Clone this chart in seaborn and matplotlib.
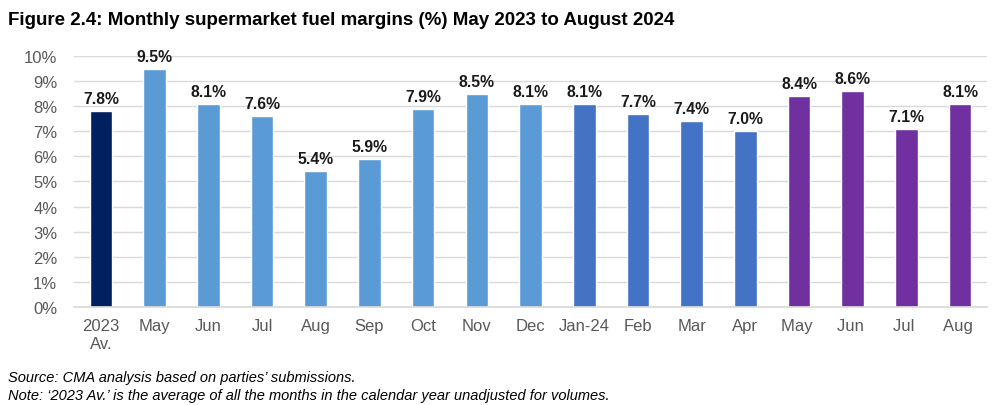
import matplotlib
matplotlib.use("Agg")
import matplotlib.pyplot as plt
import seaborn as sns
import pandas as pd

categories = ["2023\nAv.", "May", "Jun", "Jul", "Aug", "Sep", "Oct", "Nov", "Dec",
              "Jan-24", "Feb", "Mar", "Apr", "May ", "Jun ", "Jul ", "Aug "]
values = [7.8, 9.5, 8.1, 7.6, 5.4, 5.9, 7.9, 8.5, 8.1, 8.1, 7.7, 7.4, 7.0, 8.4, 8.6, 7.1, 8.1]
groups = ["avg"] + ["2023"] * 8 + ["2024a"] * 4 + ["2024b"] * 4
group_colors = {"avg": "#002060", "2023": "#5B9BD5", "2024a": "#4472C4", "2024b": "#7030A0"}

df = pd.DataFrame({"cat": categories, "val": values, "grp": groups})

sns.set_theme(style="white")
plt.rcParams["font.family"] = ["Liberation Sans", "DejaVu Sans"]

fig = plt.figure(figsize=(9.95, 4.06), dpi=100)
ax = fig.add_axes([0.0744, 0.2414, 0.9176, 0.6182])

sns.barplot(data=df, x="cat", y="val", hue="grp", palette=group_colors,
            dodge=False, width=0.42, legend=False, ax=ax, saturation=1)

for i, v in enumerate(values):
    ax.text(i, v + 0.2, f"{v:.1f}%", ha="center", va="bottom",
            fontsize=11.3, fontweight="bold", color="#1a1a1a")

ax.set_ylim(0, 10)
ax.set_xlim(-0.5, len(categories) - 0.5)
ax.set_yticks(range(0, 11))
ax.set_yticklabels([f"{t}%" for t in range(0, 11)])
ax.yaxis.grid(True, color="#d9d9d9", linewidth=1)
ax.set_axisbelow(True)
for s in ["top", "right", "left"]:
    ax.spines[s].set_visible(False)
ax.spines["bottom"].set_color("#d9d9d9")
ax.tick_params(axis="both", labelsize=12, labelcolor="#595959", length=0)
ax.tick_params(axis="x", pad=8)
ax.tick_params(axis="y", pad=12)
ax.set_xlabel("")
ax.set_ylabel("")

fig.text(0.008, 0.95, "Figure 2.4: Monthly supermarket fuel margins (%) May 2023 to August 2024",
         fontsize=13.5, fontweight="bold", ha="left", va="center", color="#000000")
fig.text(0.008, 0.07, "Source: CMA analysis based on parties\u2019 submissions.",
         fontsize=10.5, style="italic", ha="left", va="center", color="#000000")
fig.text(0.008, 0.025, "Note: \u20182023 Av.\u2019 is the average of all the months in the calendar year unadjusted for volumes.",
         fontsize=10.5, style="italic", ha="left", va="center", color="#000000")

fig.savefig("out.png", dpi=100, facecolor="white")
